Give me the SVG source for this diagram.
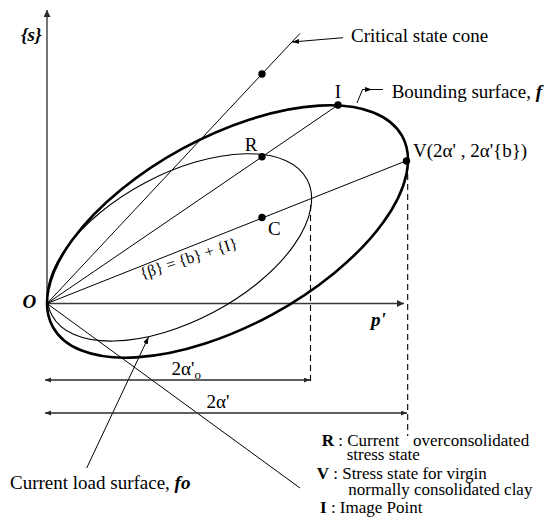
<svg xmlns="http://www.w3.org/2000/svg" width="550" height="524" viewBox="0 0 550 524">
<style>
  .t { font-family: "Liberation Serif", "Times New Roman", serif; fill: #000; }
  .m { font-size: 19px; }
  .s { font-size: 17px; }
  .bi { font-weight: bold; font-style: italic; }
  .b { font-weight: bold; }
  .ax { stroke: #3a3a3a; stroke-width: 1.4; fill: none; }
  .ln { stroke: #000; stroke-width: 1; fill: none; }
  .dim { stroke: #2a2a2a; stroke-width: 1.3; fill: none; }
  .dash { stroke: #000; stroke-width: 1.1; stroke-dasharray: 6 4; fill: none; }
  .thick { stroke: #000; stroke-width: 2.6; fill: none; }
  .thin { stroke: #000; stroke-width: 1.1; fill: none; }
  .dot { fill: #000; }
</style>
<defs>
  <marker id="arr" markerUnits="userSpaceOnUse" markerWidth="8" markerHeight="8" refX="7" refY="3.5" orient="auto">
    <path d="M0,0 L7,3.5 L0,7 z" fill="#2a2a2a"/>
  </marker>
  <marker id="arrs" markerUnits="userSpaceOnUse" markerWidth="7" markerHeight="6" refX="6" refY="2.5" orient="auto-start-reverse">
    <path d="M0,0 L6,2.5 L0,5 z" fill="#2a2a2a"/>
  </marker>
  <marker id="arrl" markerUnits="userSpaceOnUse" markerWidth="8" markerHeight="6" refX="7" refY="2.5" orient="auto">
    <path d="M0,0 L7,2.5 L0,5 z" fill="#000"/>
  </marker>
</defs>

<g id="axes">
  <line class="ax" x1="47" y1="303.5" x2="47" y2="10" marker-end="url(#arr)"/>
  <line class="ax" x1="47" y1="303.5" x2="404" y2="303.5" marker-end="url(#arr)"/>
  <text class="t m bi" x="21" y="41">{s}</text>
  <text class="t m bi" x="22.5" y="308">O</text>
  <text class="t m bi" x="371" y="326">p'</text>
</g>

<g id="bounding-surface">
  <ellipse class="thick" cx="227.5" cy="231.5" rx="199" ry="94.3" transform="rotate(-28.6 227.5 231.5)"/>
</g>

<g id="load-surface">
  <ellipse class="thin" cx="179.5" cy="247.4" rx="144.5" ry="73.2" transform="rotate(-28 179.5 247.4)"/>
</g>

<g id="connectors">
  <!-- critical state cone -->
  <line class="ln" x1="47" y1="303.5" x2="300" y2="33.4"/>
  <!-- O-R-I line -->
  <line class="ln" x1="47" y1="303.5" x2="338" y2="105"/>
  <!-- O-C-V line -->
  <line class="ln" x1="47" y1="303.5" x2="407" y2="160.5"/>
  <!-- line from O to V legend -->
  <line class="ln" x1="47" y1="303.5" x2="300" y2="488"/>
  <!-- leaders -->
  <line class="ln" x1="343" y1="37.7" x2="292" y2="42" marker-end="url(#arrl)"/>
  <line class="ln" x1="86.7" y1="468" x2="148.5" y2="337" marker-end="url(#arrl)"/>
  <polyline class="ln" points="357,103 362.5,89.5 372,89.5" marker-end="url(#arrl)"/>
  <line class="ln" x1="372" y1="89.5" x2="383" y2="89.5"/>
  <!-- dashed projections -->
  <line class="dash" x1="310.5" y1="205" x2="310.5" y2="384"/>
  <line class="dash" x1="407.7" y1="164" x2="407.7" y2="436"/>
  <!-- dimension arrows -->
  <line class="dim" x1="45" y1="380" x2="310" y2="380" marker-start="url(#arrs)" marker-end="url(#arrs)"/>
  <line class="dim" x1="45" y1="413" x2="407" y2="413" marker-start="url(#arrs)" marker-end="url(#arrs)"/>
</g>

<g id="point-cone">
  <circle class="dot" cx="262" cy="74" r="3.7"/>
</g>
<g id="point-I">
  <circle class="dot" cx="338" cy="105" r="3.7"/>
  <text class="t m" x="338" y="97.5" text-anchor="middle">I</text>
</g>
<g id="point-R">
  <circle class="dot" cx="262" cy="156.8" r="3.7"/>
  <text class="t m" x="251" y="151" text-anchor="middle">R</text>
</g>
<g id="point-V">
  <circle class="dot" cx="406.5" cy="161" r="3.7"/>
  <text class="t m" x="413" y="156.5">V(2α' , 2α'{b})</text>
</g>
<g id="point-C">
  <circle class="dot" cx="262" cy="217.5" r="3.7"/>
  <text class="t m" x="268" y="235">C</text>
</g>

<g id="labels">
  <text class="t m" x="351" y="42.3">Critical state cone</text>
  <text class="t m" x="391.7" y="98">Bounding surface, <tspan class="bi">f</tspan></text>
  <text class="t" font-size="16" x="142" y="279" transform="rotate(-18 142 279)">{β} = {b} + {I}</text>
  <text class="t m" x="171.5" y="375">2α'<tspan font-size="13" dy="4">o</tspan></text>
  <text class="t m" x="206.5" y="408">2α'</text>
  <text class="t m" x="10" y="489">Current load surface, <tspan class="bi">fo</tspan></text>
</g>

<g id="legend">
  <text class="t s" x="321.7" y="446"><tspan class="b">R</tspan> : Current</text>
  <text class="t s" x="413" y="446">overconsolidated</text>
  <text class="t s" x="346.7" y="460">stress state</text>
  <text class="t s" x="316.7" y="479"><tspan class="b">V</tspan> : Stress state for virgin</text>
  <text class="t s" x="348.3" y="495">normally consolidated clay</text>
  <text class="t s" x="320" y="513"><tspan class="b">I</tspan> : Image Point</text>
</g>
</svg>
